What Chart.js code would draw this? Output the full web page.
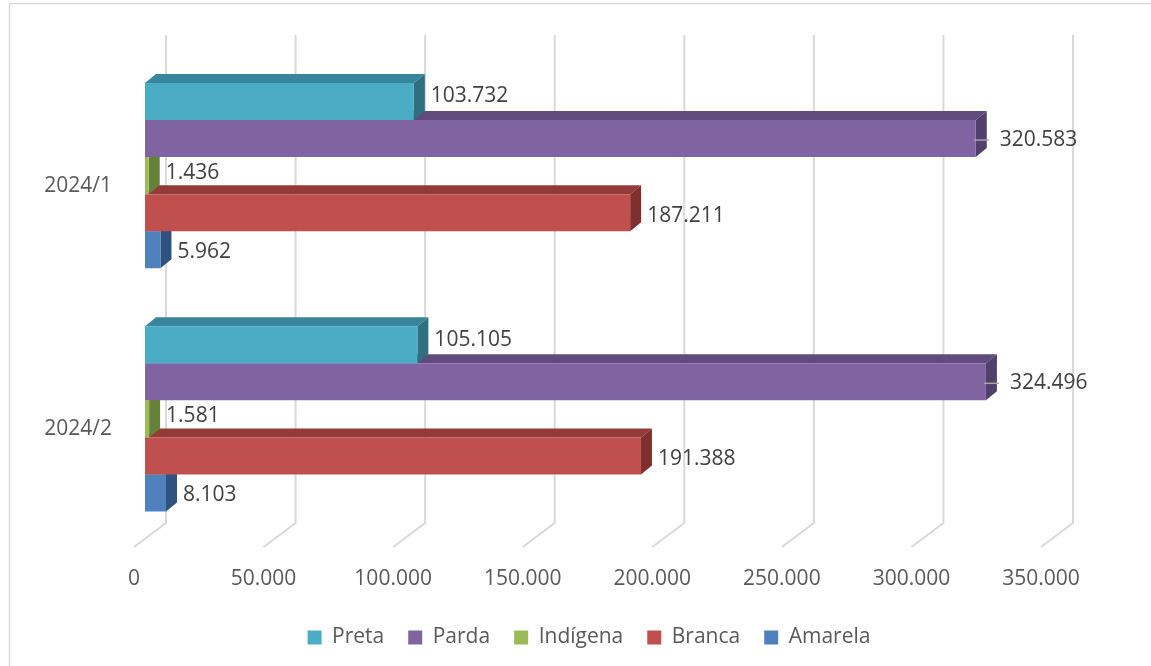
<!DOCTYPE html>
<html>
<head>
<meta charset="utf-8">
<script src="https://cdn.jsdelivr.net/npm/chart.js@4.4.1/dist/chart.umd.min.js"></script>
<style>
html,body{margin:0;padding:0;background:#fff}
canvas{display:block}
</style>
</head>
<body>
<canvas id="chart" width="1151" height="666"></canvas>
<script>
// dados
const periodos = ['2024/1','2024/2']
const preta = [103732,105105]
const parda = [320583,324496]
const indigena = [1436,1581]
const branca = [187211,191388]
const amarela = [5962,8103]
const eixoMin = 0
const eixoMax = 350000
const eixoPasso = 50000

const fmt = v => String(v).replace(/\B(?=(\d{3})+(?!\d))/g,'.')

// profundidade 3d
const DX = 11, DY = -9
const FRONT = -11

const moldura = {
  id:'moldura',
  beforeDraw(chart){
    const ctx = chart.ctx
    ctx.save()
    ctx.strokeStyle = '#d9d9d9'
    ctx.lineWidth = 1.5
    ctx.beginPath()
    ctx.moveTo(9.5,666); ctx.lineTo(9.5,3.5); ctx.lineTo(1151,3.5)
    ctx.stroke()
    ctx.restore()
  }
}

const grade3d = {
  id:'grade3d',
  beforeDatasetsDraw(chart){
    const xs = chart.scales.x, ctx = chart.ctx
    ctx.save()
    ctx.strokeStyle = '#d9d9d9'
    ctx.lineWidth = 2
    xs.ticks.forEach(t=>{
      const fx = xs.getPixelForValue(t.value) + FRONT
      ctx.beginPath()
      ctx.moveTo(fx+32,35)
      ctx.lineTo(fx+32,523)
      ctx.lineTo(fx,547)
      ctx.stroke()
    })
    ctx.restore()
  }
}

const barras3d = {
  id:'barras3d',
  beforeDatasetDraw(chart,args){
    const ds = chart.data.datasets[args.index]
    const ctx = chart.ctx
    args.meta.data.forEach(bar=>{
      const p = bar.getProps(['x','y','base','height'],true)
      const x0 = Math.min(p.x,p.base), x1 = Math.max(p.x,p.base)
      const y0 = p.y-p.height/2, y1 = p.y+p.height/2
      ctx.save()
      ctx.fillStyle = ds.corTopo
      ctx.beginPath()
      ctx.moveTo(x0,y0); ctx.lineTo(x0+DX,y0+DY); ctx.lineTo(x1+DX,y0+DY); ctx.lineTo(x1,y0)
      ctx.closePath(); ctx.fill()
      ctx.fillStyle = ds.corLado
      ctx.beginPath()
      ctx.moveTo(x1,y0); ctx.lineTo(x1+DX,y0+DY); ctx.lineTo(x1+DX,y1+DY); ctx.lineTo(x1,y1)
      ctx.closePath(); ctx.fill()
      ctx.restore()
    })
  }
}

const rotulos = {
  id:'rotulos',
  afterDatasetsDraw(chart){
    const ctx = chart.ctx
    ctx.save()
    ctx.font = '21px "Open Sans"'
    ctx.fillStyle = '#404040'
    ctx.textBaseline = 'middle'
    ctx.textAlign = 'left'
    chart.data.datasets.forEach((ds,i)=>{
      chart.getDatasetMeta(i).data.forEach((bar,j)=>{
        const end = Math.max(bar.x,bar.base)
        let gap = 17
        if(ds.guia){
          gap = 24
          ctx.strokeStyle = '#a6a6a6'
          ctx.lineWidth = 1.5
          ctx.beginPath()
          ctx.moveTo(end-2,bar.y+1.5); ctx.lineTo(end+13,bar.y+1.5)
          ctx.stroke()
        }
        ctx.fillText(fmt(ds.data[j]), end+gap, bar.y+ds.dyRotulo)
      })
    })
    ctx.restore()
  }
}

new Chart(document.getElementById('chart'),{
  type:'bar',
  data:{
    labels:periodos,
    datasets:[
      {label:'Preta',data:preta,backgroundColor:'#4bacc6',corTopo:'#37869b',corLado:'#2e6f80',dyRotulo:-5},
      {label:'Parda',data:parda,backgroundColor:'#8064a2',corTopo:'#614b7e',corLado:'#523f6b',dyRotulo:1,guia:true},
      {label:'Indígena',data:indigena,backgroundColor:'#9bbb59',corTopo:'#76913f',corLado:'#66813a',dyRotulo:-3},
      {label:'Branca',data:branca,backgroundColor:'#c0504d',corTopo:'#943a38',corLado:'#7f302e',dyRotulo:3},
      {label:'Amarela',data:amarela,backgroundColor:'#4f81bd',corTopo:'#3b6597',corLado:'#2f527f',dyRotulo:2}
    ]
  },
  options:{
    indexAxis:'y',
    responsive:false,
    animation:false,
    datasets:{bar:{barPercentage:1,categoryPercentage:0.762,borderWidth:0}},
    layout:{padding:{top:54,left:40,right:13,bottom:8}},
    scales:{
      x:{
        min:eixoMin,max:eixoMax,
        grid:{display:false},
        border:{display:false},
        ticks:{
          stepSize:eixoPasso,
          color:'#595959',
          font:{family:'"Open Sans"',size:21},
          padding:17.5,
          labelOffset:FRONT,
          maxRotation:0,
          callback:v=>fmt(v)
        },
        afterFit(s){ s.height = 62.5; s.paddingLeft = 0; s.paddingRight = 0 }
      },
      y:{
        grid:{display:false,drawTicks:false},
        border:{display:false},
        ticks:{
          color:'#595959',
          font:{family:'"Open Sans"',size:21},
          padding:33,
          labelOffset:10
        },
        afterFit(s){ s.width = 105 }
      },
      y2:{
        position:'right',
        grid:{display:false,drawTicks:false},
        border:{display:false},
        ticks:{display:false},
        afterFit(s){ s.width = 86 }
      }
    },
    plugins:{
      legend:{
        position:'bottom',
        labels:{
          color:'#595959',
          font:{family:'"Open Sans"',size:21},
          boxWidth:14,
          boxHeight:14,
          padding:24
        }
      },
      tooltip:{enabled:false}
    }
  },
  plugins:[moldura,grade3d,barras3d,rotulos]
})
</script>
</body>
</html>
